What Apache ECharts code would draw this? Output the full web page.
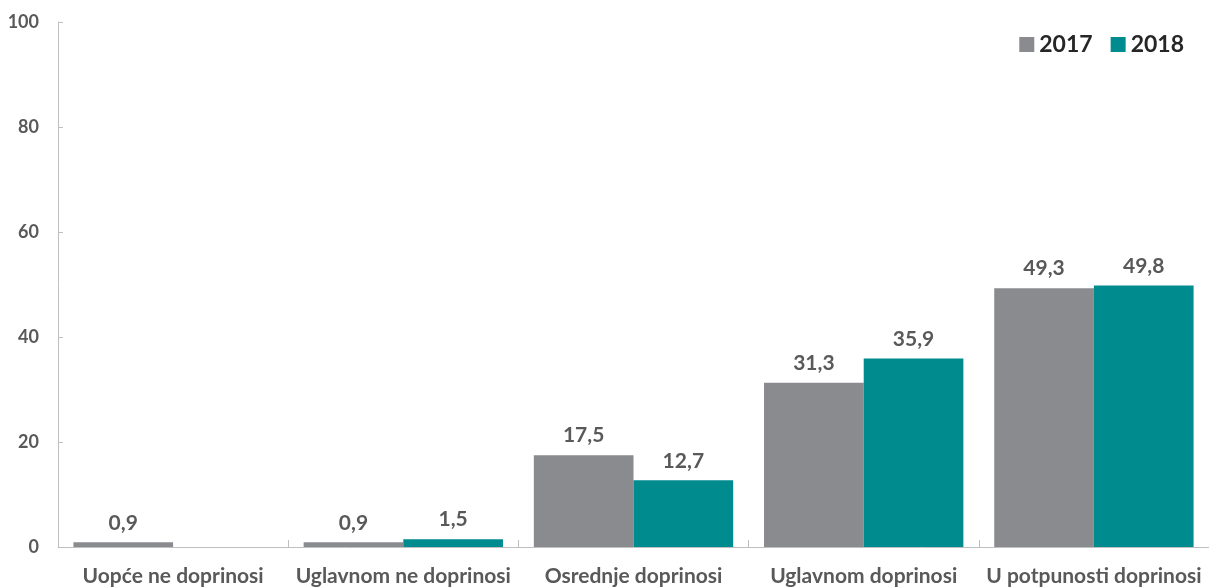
<!DOCTYPE html>
<html>
<head>
<meta charset="utf-8">
<script src="https://cdn.jsdelivr.net/npm/echarts@6/dist/echarts.min.js"></script>
<style>
  html, body { margin: 0; padding: 0; background: #fff; }
  #chart { width: 1209px; height: 587px; }
</style>
</head>
<body>
<div id="chart"></div>
<script>
// kategorije i vrijednosti
const categories = ['Uopće ne doprinosi', 'Uglavnom ne doprinosi', 'Osrednje doprinosi', 'Uglavnom doprinosi', 'U potpunosti doprinosi']
const values2017 = [0.9, 0.9, 17.5, 31.3, 49.3]
const values2018 = [null, 1.5, 12.7, 35.9, 49.8]
const seriesNames = ['2017', '2018']
const colors = ['#898B8E', '#008B8F']

const chart = echarts.init(document.getElementById('chart'))

const fontFamily = 'Lato, "Open Sans", sans-serif'
const textGrey = '#595959'

// oznaka iznad stupca, decimalni zarez
const barLabel = {
  show: true,
  position: 'top',
  distance: 9,
  color: textGrey,
  fontFamily: fontFamily,
  fontWeight: 'bold',
  fontSize: 21,
  formatter: (p) => p.value == null ? '' : String(p.value).replace('.', ',')
}

const options = {
  color: colors,
  legend: {
    right: 20,
    top: 28,
    itemWidth: 15,
    itemHeight: 15,
    itemGap: 18,
    icon: 'rect',
    textStyle: {
      color: '#262626',
      fontFamily: fontFamily,
      fontWeight: 'bold',
      fontSize: 23
    }
  },
  grid: {
    left: 58,
    right: -4,
    top: 22,
    bottom: 40,
    containLabel: false
  },
  xAxis: {
    type: 'category',
    data: categories,
    axisLine: { lineStyle: { color: '#BFBFBF', width: 1 } },
    axisTick: { show: true, inside: true, length: 7, lineStyle: { color: '#BFBFBF' } },
    axisLabel: {
      color: textGrey,
      fontFamily: fontFamily,
      fontWeight: 'bold',
      fontSize: 21,
      margin: 19,
      interval: 0
    }
  },
  yAxis: {
    type: 'value',
    min: 0,
    max: 100,
    interval: 20,
    axisLine: { show: true, lineStyle: { color: '#BFBFBF', width: 1 } },
    axisTick: { show: true, inside: true, length: 5, lineStyle: { color: '#BFBFBF' } },
    splitLine: { show: false },
    axisLabel: {
      color: textGrey,
      fontFamily: fontFamily,
      fontWeight: 'bold',
      fontSize: 18,
      margin: 19
    }
  },
  series: [
    {
      name: seriesNames[0],
      type: 'bar',
      data: values2017,
      barGap: '0%',
      barCategoryGap: '13.4%',
      label: barLabel
    },
    {
      name: seriesNames[1],
      type: 'bar',
      data: values2018,
      barGap: '0%',
      barCategoryGap: '13.4%',
      label: barLabel
    }
  ]
}

chart.setOption(options)
</script>
</body>
</html>
